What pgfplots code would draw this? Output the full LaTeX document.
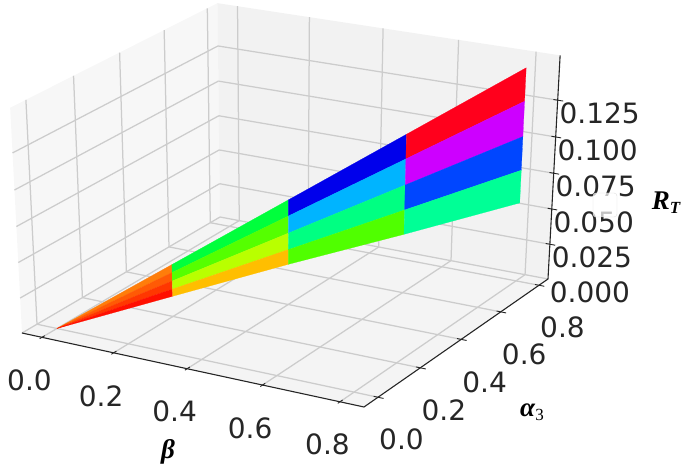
\documentclass[border=0pt]{standalone}
\usepackage{pgfplots}
\pgfplotsset{compat=1.18}
\usepackage{fontspec}
\setmainfont{DejaVu Sans}
\newfontfamily\lab{Liberation Serif}
\makeatletter
\newdimen\myW
\def\myq#1#2#3{%
  \myW=\dimexpr 1.00176pt-0.06261\dimexpr#1pt\relax+0.08209\dimexpr#2pt\relax-0.28387\dimexpr#3pt\relax\relax
  \pgf@x=\dimexpr\dimexpr 57.04pt+349.88\dimexpr#1pt\relax+235.00\dimexpr#2pt\relax-79.35\dimexpr#3pt\relax\relax*65536/\number\myW\relax
  \pgf@y=\dimexpr 469pt-\dimexpr\dimexpr 329.06pt+55.15\dimexpr#1pt\relax-109.28\dimexpr#2pt\relax-1483.9\dimexpr#3pt\relax\relax*65536/\number\myW\relax\relax
}
\def\mysetq{\global\let\pgfplotsqpointxyz\myq}
\makeatother
\definecolor{a1}{RGB}{255,125,10}\definecolor{a2}{RGB}{255,90,5}\definecolor{a3}{RGB}{255,55,0}\definecolor{a4}{RGB}{255,15,0}
\definecolor{b1}{RGB}{0,255,60}\definecolor{b2}{RGB}{85,255,0}\definecolor{b3}{RGB}{185,255,0}\definecolor{b4}{RGB}{255,190,0}
\definecolor{c1}{RGB}{0,0,235}\definecolor{c2}{RGB}{0,180,255}\definecolor{c3}{RGB}{0,255,130}\definecolor{c4}{RGB}{80,255,0}
\definecolor{d1}{RGB}{255,0,28}\definecolor{d2}{RGB}{205,0,255}\definecolor{d3}{RGB}{0,70,255}\definecolor{d4}{RGB}{0,255,150}
\pgfplotsset{face/.style={fill=#1,draw=#1,line width=.2pt,forget plot},
 tk/.style={black!85,line width=.9pt,forget plot},
 persp/.style={disabledatascaling,
  at={(56.94pt,140.52pt)},anchor=origin,
  x={(372.7pt,-80.6pt)},y={(209pt,133.7pt)},z={(0pt,1458pt)},
  xmin=-0.0567,xmax=0.861,ymin=-0.0647,ymax=0.848,zmin=0,zmax=0.155,
  clip=false,
  execute at begin axis={\mysetq},
  before end axis/.code={\mysetq}}}
\begin{document}
\begin{tikzpicture}[x=1pt,y=1pt]
\path[use as bounding box] (0,0) rectangle (685,469);
\begin{axis}[persp,hide axis]
\addplot3[fill=black!3,draw=none,forget plot] coordinates {(-0.0567,-0.0647,0)(-0.0567,0.848,0)(-0.0567,0.848,0.155)(-0.0567,-0.0647,0.155)} --cycle;
\addplot3[fill=black!5,draw=none,forget plot] coordinates {(-0.0567,0.848,0)(0.861,0.848,0)(0.861,0.848,0.155)(-0.0567,0.848,0.155)} --cycle;
\addplot3[fill=black!4.5,draw=none,forget plot] coordinates {(-0.0567,-0.0647,0)(0.861,-0.0647,0)(0.861,0.848,0)(-0.0567,0.848,0)} --cycle;
\end{axis}
\begin{axis}[persp,
  axis line style={draw=none},
  grid=major,grid style={draw=black!20,line width=1.25pt},
  xtick={0,0.2,0.4,0.6,0.8},ytick={0,0.2,0.4,0.6,0.8},
  ztick={0,0.025,0.05,0.075,0.1,0.125},
  zticklabel pos=right,
  major tick length=0pt,
  every tick label/.style={font=\fontsize{28}{28}\selectfont,text=black!85,anchor=center},
  /pgf/number format/assume math mode=true,
  xticklabel style={xshift=-12.5pt,yshift=-43pt,/pgf/number format/fixed,/pgf/number format/fixed zerofill,/pgf/number format/precision=1},
  yticklabel style={xshift=23.5pt,yshift=-42.5pt,/pgf/number format/fixed,/pgf/number format/fixed zerofill,/pgf/number format/precision=1},
  zticklabel style={xshift=42pt,yshift=-13pt,/pgf/number format/fixed,/pgf/number format/fixed zerofill,/pgf/number format/precision=3},
]
\addplot3[black!85,line width=1.1pt,forget plot] coordinates {(-0.0567,-0.0647,0)(0.861,-0.0647,0)(0.861,0.848,0)(0.861,0.848,0.155)};
\addplot3[tk] coordinates {(0,-0.0747,0)(0,-0.0527,0)};
\addplot3[tk] coordinates {(0.2,-0.0747,0)(0.2,-0.0527,0)};
\addplot3[tk] coordinates {(0.4,-0.0747,0)(0.4,-0.0527,0)};
\addplot3[tk] coordinates {(0.6,-0.0747,0)(0.6,-0.0527,0)};
\addplot3[tk] coordinates {(0.8,-0.0747,0)(0.8,-0.0527,0)};
\addplot3[tk] coordinates {(0.85,0,0)(0.875,0,0)};
\addplot3[tk] coordinates {(0.85,0.2,0)(0.875,0.2,0)};
\addplot3[tk] coordinates {(0.85,0.4,0)(0.875,0.4,0)};
\addplot3[tk] coordinates {(0.85,0.6,0)(0.875,0.6,0)};
\addplot3[tk] coordinates {(0.85,0.8,0)(0.875,0.8,0)};
\addplot3[tk] coordinates {(0.85,0.848,0.025)(0.875,0.848,0.025)};
\addplot3[tk] coordinates {(0.85,0.848,0.05)(0.875,0.848,0.05)};
\addplot3[tk] coordinates {(0.85,0.848,0.075)(0.875,0.848,0.075)};
\addplot3[tk] coordinates {(0.85,0.848,0.1)(0.875,0.848,0.1)};
\addplot3[tk] coordinates {(0.85,0.848,0.125)(0.875,0.848,0.125)};
\addplot3[face=a1] coordinates {(0,0,0)(0.2,0.2,0.037)(0.2,0.2,0.0314)} --cycle;
\addplot3[face=a2] coordinates {(0,0,0)(0.2,0.2,0.0314)(0.2,0.2,0.0254)} --cycle;
\addplot3[face=a3] coordinates {(0,0,0)(0.2,0.2,0.0254)(0.2,0.2,0.0196)} --cycle;
\addplot3[face=a4] coordinates {(0,0,0)(0.2,0.2,0.0196)(0.2,0.2,0.0145)} --cycle;
\addplot3[face=b1] coordinates {(0.2,0.2,0.037)(0.4,0.4,0.074)(0.4,0.4,0.0628)(0.2,0.2,0.0314)} --cycle;
\addplot3[face=b2] coordinates {(0.2,0.2,0.0314)(0.4,0.4,0.0628)(0.4,0.4,0.0508)(0.2,0.2,0.0254)} --cycle;
\addplot3[face=b3] coordinates {(0.2,0.2,0.0254)(0.4,0.4,0.0508)(0.4,0.4,0.0392)(0.2,0.2,0.0196)} --cycle;
\addplot3[face=b4] coordinates {(0.2,0.2,0.0196)(0.4,0.4,0.0392)(0.4,0.4,0.0288)(0.2,0.2,0.0145)} --cycle;
\addplot3[face=c1] coordinates {(0.4,0.4,0.074)(0.6,0.6,0.111)(0.6,0.6,0.0942)(0.4,0.4,0.0628)} --cycle;
\addplot3[face=c2] coordinates {(0.4,0.4,0.0628)(0.6,0.6,0.0942)(0.6,0.6,0.0762)(0.4,0.4,0.0508)} --cycle;
\addplot3[face=c3] coordinates {(0.4,0.4,0.0508)(0.6,0.6,0.0762)(0.6,0.6,0.0588)(0.4,0.4,0.0392)} --cycle;
\addplot3[face=c4] coordinates {(0.4,0.4,0.0392)(0.6,0.6,0.0588)(0.6,0.6,0.0417)(0.4,0.4,0.0288)} --cycle;
\addplot3[face=d1] coordinates {(0.6,0.6,0.111)(0.8,0.8,0.148)(0.8,0.8,0.1256)(0.6,0.6,0.0942)} --cycle;
\addplot3[face=d2] coordinates {(0.6,0.6,0.0942)(0.8,0.8,0.1256)(0.8,0.8,0.1016)(0.6,0.6,0.0762)} --cycle;
\addplot3[face=d3] coordinates {(0.6,0.6,0.0762)(0.8,0.8,0.1016)(0.8,0.8,0.0784)(0.6,0.6,0.0588)} --cycle;
\addplot3[face=d4] coordinates {(0.6,0.6,0.0588)(0.8,0.8,0.0784)(0.8,0.8,0.0556)(0.6,0.6,0.0417)} --cycle;
\end{axis}
\draw[rounded corners=3pt,draw=black!12,fill=white,fill opacity=.72] (593,252) rectangle (617,276);
\node[font=\lab\bfseries\itshape\fontsize{27}{27}\selectfont] at (168,17) {β};
\node[font=\lab\fontsize{27}{27}\selectfont] at (532,57) {\textbf{\textit{α}}\raisebox{-4pt}{\fontsize{17}{17}\selectfont 3}};
\node[font=\lab\bfseries\itshape\fontsize{27}{27}\selectfont,anchor=center,inner sep=0pt] at (666,266) {R\raisebox{-4pt}{\fontsize{17}{17}\selectfont T}};
\end{tikzpicture}
\end{document}
